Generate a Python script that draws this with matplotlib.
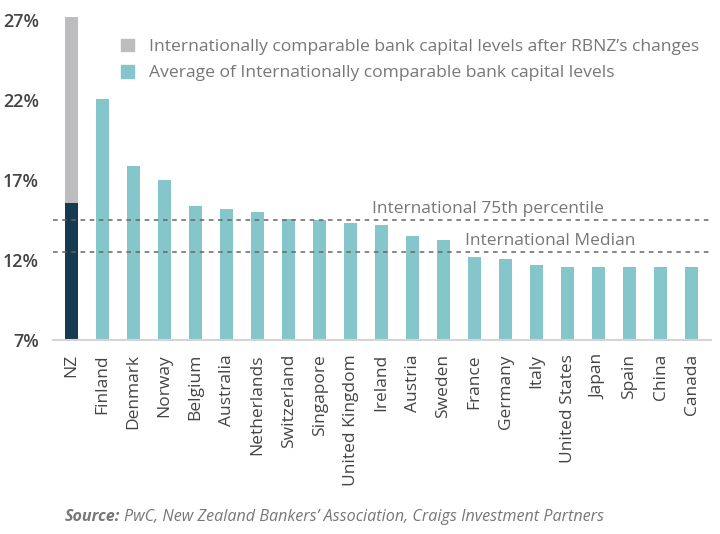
import matplotlib
matplotlib.use("Agg")
import matplotlib.pyplot as plt
from matplotlib.patches import Patch

plt.rcParams['font.family'] = ['Open Sans', 'DejaVu Sans']

# data
countries = ['NZ', 'Finland', 'Denmark', 'Norway', 'Belgium', 'Australia',
             'Netherlands', 'Switzerland', 'Singapore', 'United Kingdom',
             'Ireland', 'Austria', 'Sweden', 'France', 'Germany', 'Italy',
             'United States', 'Japan', 'Spain', 'China', 'Canada']
average = [15.6, 22.1, 17.9, 17.0, 15.4, 15.2, 15.0, 14.6, 14.5, 14.35,
           14.2, 13.5, 13.25, 12.2, 12.05, 11.7, 11.6, 11.6, 11.6, 11.6, 11.6]
nz_after = 27.2
pct75 = 14.5
median = 12.5
yticks = [7, 12, 17, 22, 27]

teal = '#85C6CB'
navy = '#163A52'
grey = '#BDBDC0'

fig = plt.figure(figsize=(7.2, 5.34), dpi=100)
ax = fig.add_axes([0.0736, 0.363, 0.914, 0.605])

x = list(range(len(countries)))
colors = [navy] + [teal] * (len(countries) - 1)
ax.bar(x, [v - 7 for v in average], bottom=7, width=0.42, color=colors)
# grey part of NZ bar on top of the dark part
ax.bar(0, nz_after - average[0], bottom=average[0], width=0.42, color=grey)

ax.axhline(pct75, color='#666666', lw=1.1, ls=(0, (3, 3)))
ax.axhline(median, color='#666666', lw=1.1, ls=(0, (3, 3)))
ax.text(9.7, pct75 + 0.2, 'International 75th percentile', fontsize=12.5,
        color='#777777', va='bottom', ha='left')
ax.text(12.68, median + 0.2, 'International Median', fontsize=12.5,
        color='#777777', va='bottom', ha='left')

ax.set_xlim(-0.6, 20.63)
ax.set_ylim(7, 27.2)
ax.set_yticks(yticks)
ax.set_yticklabels([f'{t}%' for t in yticks], fontsize=13,
                   color='#444444', fontweight='semibold')
ax.set_xticks(x)
ax.set_xticklabels(countries, rotation=90, fontsize=12.5, color='#444444',
                   fontweight='medium')
ax.tick_params(axis='both', length=0)
ax.tick_params(axis='x', pad=10)
ax.tick_params(axis='y', pad=10)
for s in ['top', 'right', 'left']:
    ax.spines[s].set_visible(False)
ax.spines['bottom'].set_color('#d4d4d4')
ax.spines['bottom'].set_linewidth(1.5)

handles = [Patch(color=grey), Patch(color=teal)]
labels = ["Internationally comparable bank capital levels after RBNZ\u2019s changes",
          'Average of Internationally comparable bank capital levels']
leg = ax.legend(handles, labels, loc='upper left', bbox_to_anchor=(0.092, 0.955),
                frameon=False, fontsize=12.6, handlelength=0.75, handleheight=0.75,
                handletextpad=0.85, labelspacing=0.55, borderaxespad=0)
for t in leg.get_texts():
    t.set_color('#777777')

src = fig.text(0.09, 0.032, 'Source:', fontsize=11.6, color='#777777',
               style='italic', fontweight='bold', va='center')
fig.canvas.draw()
bb = src.get_window_extent()
fig.text(bb.x1 / fig.bbox.width + 0.006, 0.032,
         'PwC, New Zealand Bankers\u2019 Association, Craigs Investment Partners',
         fontsize=11.6, color='#777777', style='italic', va='center')

fig.savefig('out.png', dpi=100)
